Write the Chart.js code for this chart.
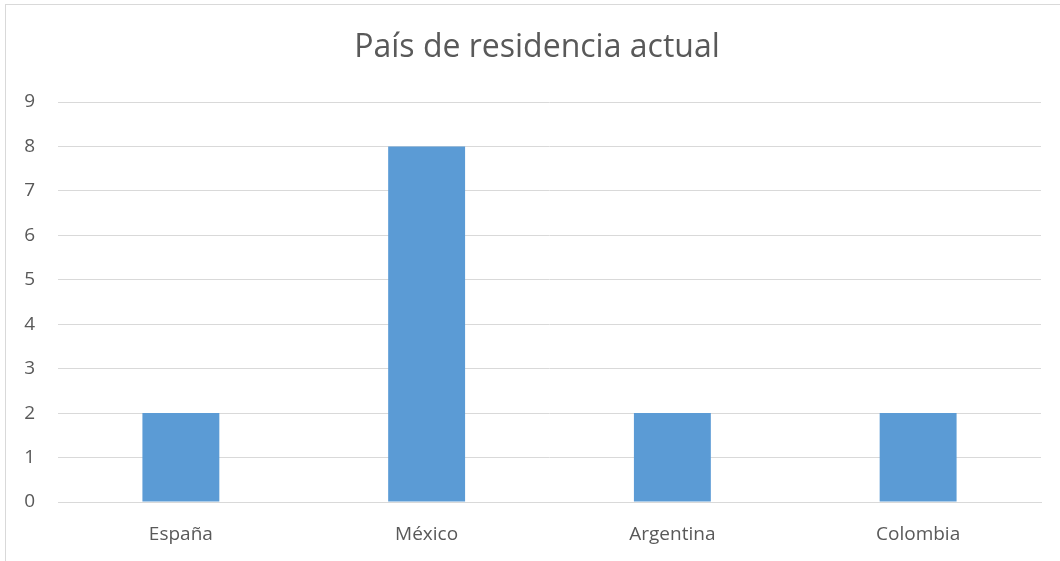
<!DOCTYPE html>
<html>
<head>
<meta charset="utf-8">
<script src="https://cdn.jsdelivr.net/npm/chart.js@4.4.1/dist/chart.umd.min.js"></script>
<style>
  html, body { margin: 0; padding: 0; background: #ffffff; overflow: hidden; }
  #frame { position: absolute; left: 5px; top: 4px; width: 1100px; height: 600px; border: 1px solid #d9d9d9; box-sizing: border-box; }
  #wrap { position: absolute; left: 0; top: 0; width: 1060px; height: 561px; }
</style>
</head>
<body>
<div id="frame"></div>
<div id="wrap"><canvas id="c" width="1060" height="561"></canvas></div>
<script>
const chartTitle = "País de residencia actual";
const categories = ["España", "México", "Argentina", "Colombia"];
const values = [2, 8, 2, 2];
const yMin = 0;
const yMax = 9;
const yStep = 1;

const textColor = "#595959";
const gridColor = "#d9d9d9";
const barColor = "#5B9BD5";
const fontFamily = "'Open Sans', 'Noto Sans', sans-serif";

const titlePlugin = {
  id: "customTitle",
  afterDraw(chart) {
    const ctx = chart.ctx;
    ctx.save();
    ctx.fillStyle = textColor;
    ctx.font = "32px " + fontFamily;
    ctx.textAlign = "center";
    ctx.textBaseline = "middle";
    ctx.fillText(chartTitle, 537, 48);
    ctx.restore();
  }
};

new Chart(document.getElementById("c"), {
  type: "bar",
  data: {
    labels: categories,
    datasets: [{
      data: values,
      backgroundColor: barColor,
      borderWidth: 0,
      categoryPercentage: 1,
      barPercentage: 0.313
    }]
  },
  options: {
    responsive: false,
    animation: false,
    layout: { padding: { left: 0, right: 19, top: 102, bottom: 0 } },
    plugins: {
      legend: { display: false },
      tooltip: { enabled: false },
      title: { display: false }
    },
    scales: {
      x: {
        grid: { display: false, drawTicks: false },
        border: { display: true, color: gridColor, width: 1 },
        ticks: { color: textColor, font: { family: fontFamily, size: 19 }, padding: 21 },
        afterFit: (s) => { s.height = 59; }
      },
      y: {
        min: yMin,
        max: yMax,
        ticks: { stepSize: yStep, color: textColor, font: { family: fontFamily, size: 19 }, padding: 23 },
        grid: { color: gridColor, lineWidth: 1, drawTicks: false },
        border: { display: false },
        afterFit: (s) => { s.width = 58; }
      }
    }
  },
  plugins: [titlePlugin]
});
</script>
</body>
</html>
